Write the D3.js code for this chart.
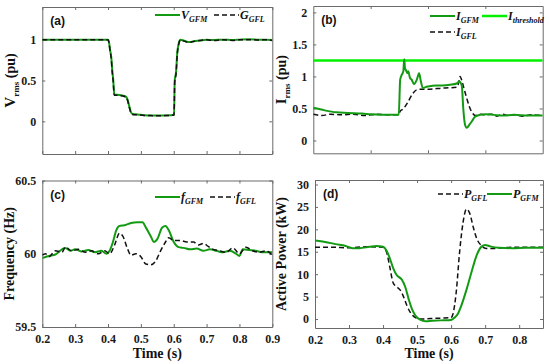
<!DOCTYPE html>
<html><head><meta charset="utf-8">
<script src="https://cdn.jsdelivr.net/npm/d3@7"></script>
<style>body{margin:0;background:#fff}svg{display:block}</style>
</head><body><svg id="c" width="550" height="364"></svg>
<script>
// ---------- data ----------
const vGFM = [[0.2,1.0],[0.25,1.0],[0.3,1.0],[0.35,1.0],[0.4,1.0],[0.403,0.97],[0.406,0.88],[0.41,0.78],[0.413,0.62],[0.416,0.5],[0.419,0.33],[0.43,0.325],[0.445,0.315],[0.455,0.3],[0.46,0.26],[0.465,0.18],[0.47,0.11],[0.475,0.09],[0.49,0.085],[0.51,0.075],[0.53,0.072],[0.55,0.07],[0.57,0.072],[0.59,0.075],[0.601,0.08],[0.603,0.5],[0.607,0.6],[0.611,0.85],[0.615,0.95],[0.62,1.0],[0.63,0.99],[0.64,0.975],[0.65,0.97],[0.66,0.98],[0.68,0.99],[0.7,1.0],[0.72,0.995],[0.75,1.0],[0.78,0.995],[0.8,1.0],[0.83,1.005],[0.86,1.0],[0.88,1.0],[0.9,0.995]];
const vGFL = [[0.2,1.0],[0.25,1.0],[0.3,1.0],[0.35,1.0],[0.4,1.0],[0.403,0.96],[0.406,0.87],[0.41,0.76],[0.413,0.6],[0.416,0.48],[0.419,0.32],[0.43,0.32],[0.445,0.31],[0.455,0.295],[0.46,0.25],[0.465,0.17],[0.47,0.1],[0.475,0.085],[0.49,0.08],[0.51,0.072],[0.53,0.07],[0.55,0.068],[0.57,0.07],[0.59,0.072],[0.601,0.078],[0.603,0.48],[0.607,0.58],[0.611,0.83],[0.615,0.94],[0.62,0.995],[0.63,0.985],[0.64,0.97],[0.65,0.968],[0.66,0.978],[0.68,0.99],[0.7,0.998],[0.72,0.99],[0.75,0.998],[0.78,0.99],[0.8,1.0],[0.83,1.0],[0.86,0.995],[0.88,1.0],[0.9,0.99]];

const iGFM = [[0.1,0.51],[0.14,0.47],[0.18,0.44],[0.22,0.43],[0.27,0.42],[0.3,0.41],[0.35,0.4],[0.39,0.4],[0.398,0.4],[0.403,0.95],[0.408,1.02],[0.414,1.08],[0.417,1.27],[0.42,1.12],[0.423,1.1],[0.428,1.05],[0.431,1.08],[0.437,0.98],[0.443,0.95],[0.451,0.88],[0.461,0.95],[0.469,1.05],[0.474,0.95],[0.482,0.82],[0.495,0.84],[0.51,0.85],[0.53,0.86],[0.55,0.86],[0.577,0.87],[0.6,0.89],[0.609,0.92],[0.618,0.85],[0.623,0.5],[0.629,0.25],[0.635,0.2],[0.645,0.25],[0.653,0.3],[0.664,0.37],[0.681,0.4],[0.7,0.41],[0.73,0.4],[0.76,0.39],[0.8,0.4],[0.85,0.39],[0.9,0.39]];
const iGFL = [[0.1,0.41],[0.13,0.39],[0.16,0.41],[0.2,0.4],[0.24,0.41],[0.28,0.39],[0.32,0.41],[0.36,0.4],[0.398,0.4],[0.402,0.45],[0.415,0.5],[0.43,0.6],[0.445,0.72],[0.46,0.79],[0.475,0.8],[0.5,0.8],[0.53,0.81],[0.56,0.82],[0.6,0.83],[0.607,0.9],[0.612,1.0],[0.617,0.95],[0.625,0.82],[0.635,0.66],[0.645,0.52],[0.655,0.43],[0.665,0.39],[0.68,0.41],[0.7,0.4],[0.72,0.41],[0.74,0.38],[0.76,0.41],[0.78,0.39],[0.8,0.4],[0.83,0.38],[0.86,0.4],[0.9,0.39]];
const iThreshold = 1.25;

const fGFM = [[0.2,59.97],[0.22,59.985],[0.24,59.995],[0.26,60.03],[0.27,60.04],[0.285,60.02],[0.3,60.03],[0.32,60.015],[0.34,60.025],[0.36,60.01],[0.38,60.02],[0.395,60.0],[0.405,60.02],[0.415,60.08],[0.425,60.16],[0.435,60.19],[0.45,60.195],[0.47,60.21],[0.49,60.215],[0.505,60.215],[0.515,60.18],[0.53,60.12],[0.54,60.08],[0.55,60.1],[0.565,60.18],[0.575,60.19],[0.585,60.16],[0.6,60.08],[0.615,60.045],[0.63,60.04],[0.65,60.03],[0.67,60.035],[0.69,60.02],[0.71,60.03],[0.73,60.02],[0.75,60.01],[0.77,60.02],[0.79,60.0],[0.8,59.985],[0.81,60.03],[0.83,60.025],[0.85,60.02],[0.87,60.01],[0.9,60.01]];
const fGFL = [[0.2,59.99],[0.21,60.0],[0.22,59.98],[0.24,60.02],[0.26,60.01],[0.27,60.045],[0.29,60.02],[0.31,60.03],[0.33,60.01],[0.35,60.02],[0.37,60.0],[0.39,60.02],[0.405,60.0],[0.42,60.06],[0.435,60.14],[0.445,60.12],[0.46,60.03],[0.47,59.99],[0.485,60.0],[0.5,59.98],[0.515,59.93],[0.53,59.925],[0.545,59.95],[0.56,60.02],[0.575,60.08],[0.585,60.11],[0.6,60.09],[0.62,60.09],[0.64,60.08],[0.66,60.08],[0.675,60.06],[0.69,60.07],[0.705,60.05],[0.72,60.03],[0.74,60.02],[0.76,60.01],[0.78,60.04],[0.8,60.0],[0.82,60.045],[0.84,60.02],[0.86,60.01],[0.88,60.02],[0.9,59.99]];

const pGFM = [[0.2,17.5],[0.23,17.2],[0.26,16.7],[0.29,16.3],[0.31,15.8],[0.33,15.8],[0.36,16.1],[0.38,16.3],[0.4,16.1],[0.41,15.3],[0.42,13.5],[0.43,11.3],[0.44,9.8],[0.455,8.8],[0.465,7.2],[0.475,4.5],[0.485,2.2],[0.495,0.8],[0.51,-0.2],[0.525,-0.5],[0.545,-0.4],[0.57,-0.3],[0.6,-0.2],[0.61,0.3],[0.62,1.2],[0.63,3],[0.645,6.5],[0.66,10.5],[0.675,14.2],[0.69,16.2],[0.7,16.5],[0.715,16.2],[0.74,15.9],[0.78,15.8],[0.82,15.9],[0.87,15.9]];
const pGFL = [[0.2,16],[0.25,16],[0.3,15.9],[0.35,16.1],[0.4,16],[0.41,15],[0.42,11.5],[0.43,8],[0.44,7.2],[0.45,6.5],[0.46,5],[0.47,3],[0.48,1.5],[0.495,0.3],[0.51,0],[0.54,0.1],[0.57,0.2],[0.6,0.3],[0.605,1],[0.615,6],[0.625,15],[0.635,21.5],[0.645,24.5],[0.655,23.5],[0.665,20.5],[0.675,18],[0.69,16.3],[0.7,15.8],[0.72,15.7],[0.75,15.9],[0.8,16],[0.87,16]];

const xTicksAC = [0.2,0.3,0.4,0.5,0.6,0.7,0.8,0.9];
const xTicksB = [0.3,0.5,0.7];
const xTicksD = [0.2,0.3,0.4,0.5,0.6,0.7,0.8];
const yTicksA = [0,0.5,1];
const yTicksB = [0,0.5,1,1.5,2];
const yTicksC = [59.5,60,60.5];
const yTicksD = [0,5,10,15,20,25,30];

// ---------- drawing ----------
const svg = d3.select('#c');
const GREEN = '#139a13', BRIGHT = '#00f000', FRAME = '#6a6a6a';
const SERIF = '"Liberation Serif","Times New Roman",serif';
const SANS = '"Liberation Sans",Arial,sans-serif';

function panel(o){
  const x = d3.scaleLinear().domain(o.xd).range([o.x0,o.x1]);
  const y = d3.scaleLinear().domain(o.yd).range([o.y1,o.y0]);
  const g = svg.append('g');
  const clipId = 'clip'+o.name.replace(/[()]/g,'');
  svg.append('clipPath').attr('id',clipId).append('rect')
    .attr('x',o.x0).attr('y',o.y0).attr('width',o.x1-o.x0).attr('height',o.y1-o.y0);
  const tick = 3;
  const fmt = d => d3.format('')(d);
  const ax = (axis, tr) => g.append('g').attr('transform',tr).call(axis)
     .call(s=>s.select('.domain').attr('stroke',FRAME))
     .call(s=>s.selectAll('.tick line').attr('stroke',FRAME))
     .call(s=>s.selectAll('text').attr('font-family',SERIF).attr('font-weight','bold').attr('font-size',12).attr('fill','#1a1a1a'));
  ax(d3.axisBottom(x).tickValues(o.xt).tickSizeInner(-tick).tickSizeOuter(0).tickPadding(7).tickFormat(o.xlab?fmt:()=>''), `translate(0,${o.y1})`);
  ax(d3.axisTop(x).tickValues(o.xt).tickSizeInner(-tick).tickSizeOuter(0).tickFormat(()=>''), `translate(0,${o.y0})`);
  ax(d3.axisLeft(y).tickValues(o.yt).tickSizeInner(-tick).tickSizeOuter(0).tickPadding(6).tickFormat(fmt), `translate(${o.x0},0)`);
  ax(d3.axisRight(y).tickValues(o.yt).tickSizeInner(-tick).tickSizeOuter(0).tickFormat(()=>''), `translate(${o.x1},0)`);
  const line = d3.line().x(d=>x(d[0])).y(d=>y(d[1])).curve(d3.curveMonotoneX);
  const pl = g.append('g').attr('clip-path',`url(#${clipId})`);
  o.series.forEach(s=>{
    if (s.h !== undefined){
      pl.append('line').attr('x1',o.x0).attr('x2',o.x1).attr('y1',y(s.h)).attr('y2',y(s.h))
        .attr('stroke',s.color).attr('stroke-width',s.w);
    } else {
      pl.append('path').datum(s.data).attr('d',line).attr('fill','none')
        .attr('stroke',s.color).attr('stroke-width',s.w).attr('stroke-dasharray',s.dash||null);
    }
  });
  g.append('text').attr('x',o.x0+8).attr('y',o.y0+18).text(o.name)
    .attr('font-family',SANS).attr('font-weight','bold').attr('font-size',12).attr('fill','#111');
  o.legend.forEach(l=>{
    g.append('line').attr('x1',l.x).attr('x2',l.x+25).attr('y1',l.y).attr('y2',l.y)
      .attr('stroke',l.color).attr('stroke-width',l.w).attr('stroke-dasharray',l.dash||null);
    const t = g.append('text').attr('x',l.x+26).attr('y',l.y+4)
      .attr('font-family',SERIF).attr('font-weight','bold').attr('font-style','italic').attr('fill','#111');
    t.append('tspan').attr('font-size',12).text(l.main);
    t.append('tspan').attr('font-size',8).attr('dy',3).text(l.sub);
  });
  const yt = g.append('text').attr('transform',`translate(${o.ytx},${(o.y0+o.y1)/2}) rotate(-90)`)
    .attr('text-anchor','middle').attr('font-family',SERIF).attr('font-weight','bold').attr('fill','#111');
  o.ytitle.forEach(p=>{
    const ts = yt.append('tspan').attr('font-size',p.size).text(p.t);
    if (p.dy) ts.attr('dy',p.dy);
  });
  if (o.xtitle){
    g.append('text').attr('x',(o.x0+o.x1)/2).attr('y',358).attr('text-anchor','middle')
      .attr('font-family',SERIF).attr('font-weight','bold').attr('font-size',14).attr('fill','#111').text(o.xtitle);
  }
}

panel({name:'(a)', xd:[0.2,0.9], yd:[-0.4,1.4], x0:42.3, x1:272.3, y0:7, y1:154, xt:xTicksAC, yt:yTicksA, xlab:false,
  series:[{data:vGFM,color:GREEN,w:2},{data:vGFL,color:'#111',w:1.5,dash:'5,3'}],
  legend:[{x:155,y:15,color:GREEN,w:2,main:'V',sub:'GFM'},{x:214,y:15,color:'#111',w:1.5,dash:'5,3',main:'G',sub:'GFL'}],
  ytx:15, ytitle:[{t:'V',size:15},{t:'rms',size:9,dy:4},{t:' (pu)',size:14,dy:-4}]});

panel({name:'(b)', xd:[0.1,0.9], yd:[-0.2,2.1], x0:313.3, x1:542.7, y0:6, y1:153.3, xt:xTicksB, yt:yTicksB, xlab:false,
  series:[{h:iThreshold,color:BRIGHT,w:2.5},{data:iGFL,color:'#111',w:1.5,dash:'5,3'},{data:iGFM,color:GREEN,w:2}],
  legend:[{x:430,y:16,color:GREEN,w:2,main:'I',sub:'GFM'},{x:482,y:16,color:BRIGHT,w:2.5,main:'I',sub:'threshold'},{x:430,y:32,color:'#111',w:1.5,dash:'5,3',main:'I',sub:'GFL'}],
  ytx:286, ytitle:[{t:'I',size:15},{t:'rms',size:9,dy:4},{t:' (pu)',size:14,dy:-4}]});

panel({name:'(c)', xd:[0.2,0.9], yd:[59.5,60.5], x0:42.3, x1:272.3, y0:180.5, y1:327, xt:xTicksAC, yt:yTicksC, xlab:true,
  series:[{data:fGFM,color:GREEN,w:2},{data:fGFL,color:'#111',w:1.5,dash:'5,3'}],
  legend:[{x:155,y:197,color:GREEN,w:2,main:'f',sub:'GFM'},{x:210,y:197,color:'#111',w:1.5,dash:'5,3',main:'f',sub:'GFL'}],
  ytx:14, ytitle:[{t:'Frequency (Hz)',size:14}], xtitle:'Time (s)'});

panel({name:'(d)', xd:[0.2,0.87], yd:[-2,31], x0:315, x1:543, y0:180, y1:328, xt:xTicksD, yt:yTicksD, xlab:true,
  series:[{data:pGFL,color:'#111',w:1.5,dash:'5,3'},{data:pGFM,color:GREEN,w:2}],
  legend:[{x:438,y:194,color:'#111',w:1.5,dash:'5,3',main:'P',sub:'GFL'},{x:487,y:194,color:GREEN,w:2,main:'P',sub:'GFM'}],
  ytx:286, ytitle:[{t:'Active Power (kW)',size:14}], xtitle:'Time (s)'});
</script></body></html>
